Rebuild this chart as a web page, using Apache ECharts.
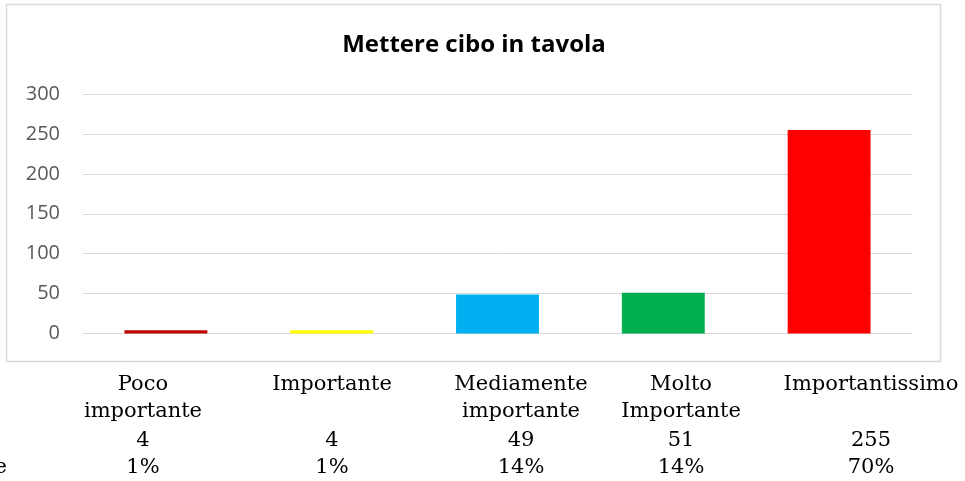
<!DOCTYPE html>
<html>
<head>
<meta charset="utf-8">
<script src="https://cdn.jsdelivr.net/npm/echarts@6/dist/echarts.min.js"></script>
<style>
    html, body { margin: 0; padding: 0; background: #fff; }
    #main { width: 965px; height: 481px; }
</style>
</head>
<body>
<div id="main"></div>
<script>
// dati del grafico
var categories = ['Poco importante', 'Importante', 'Mediamente importante', 'Molto Importante', 'Importantissimo'];
var values = [4, 4, 49, 51, 255];
var percentages = ['1%', '1%', '14%', '14%', '70%'];
var tableLabels = [['Poco', 'importante'], ['Importante'], ['Mediamente', 'importante'], ['Molto', 'Importante'], ['Importantissimo']];
var barColors = ['#C00000', '#FFFF00', '#00B0F0', '#00B050', '#FF0000'];
var yTicks = [0, 50, 100, 150, 200, 250, 300];

// colonne della tabella sotto il grafico
var colX = [143, 332, 521, 681, 871];
var rowY = [385, 412, 441, 468];
var serif = '"DejaVu Serif", serif';

function initChart(containerId) {
    var graphicItems = [
        {
            type: 'rect',
            shape: { x: 6.5, y: 4.5, width: 934, height: 357 },
            style: { fill: 'none', stroke: '#d9d9d9', lineWidth: 1.5 },
            silent: true
        },
        {
            type: 'text', x: 474, y: 45,
            style: { text: 'Mettere cibo in tavola', font: 'bold 24px "Open Sans"', fill: '#000', align: 'center', verticalAlign: 'middle' }
        }
    ];

    for (var i = 0; i < categories.length; i++) {
        var lines = tableLabels[i];
        for (var j = 0; j < lines.length; j++) {
            graphicItems.push({
                type: 'text', x: colX[i], y: rowY[j],
                style: { text: lines[j], font: '21px ' + serif, fill: '#000', align: 'center', verticalAlign: 'middle' }
            });
        }
        graphicItems.push({
            type: 'text', x: colX[i], y: rowY[2],
            style: { text: String(values[i]), font: '21px ' + serif, fill: '#000', align: 'center', verticalAlign: 'middle' }
        });
        graphicItems.push({
            type: 'text', x: colX[i], y: rowY[3],
            style: { text: percentages[i], font: '21px ' + serif, fill: '#000', align: 'center', verticalAlign: 'middle' }
        });
    }
    // etichetta di riga tagliata a sinistra
    graphicItems.push({
        type: 'text', x: 7, y: rowY[3],
        style: { text: 'Percentuale', font: '21px ' + serif, fill: '#000', align: 'right', verticalAlign: 'middle' }
    });

    var option = {
        animation: false,
        backgroundColor: '#fff',
        grid: { left: 83, right: 53, top: 94, bottom: 147.5, containLabel: false },
        xAxis: {
            type: 'category',
            data: categories,
            axisLine: { show: true, lineStyle: { color: '#d9d9d9', width: 1 } },
            axisTick: { show: false },
            axisLabel: { show: false }
        },
        yAxis: {
            type: 'value',
            min: yTicks[0],
            max: yTicks[yTicks.length - 1],
            interval: 50,
            axisLine: { show: false },
            axisTick: { show: false },
            axisLabel: { color: '#595959', fontFamily: 'Open Sans', fontSize: 20, margin: 23 },
            splitLine: { lineStyle: { color: '#d9d9d9', width: 1 } }
        },
        series: [{
            type: 'bar',
            barWidth: '50%',
            data: values.map(function (v, i) {
                return { value: v, itemStyle: { color: barColors[i] } };
            })
        }],
        graphic: graphicItems
    };

    var myChart = echarts.init(document.getElementById(containerId));
    myChart.setOption(option);
}

initChart('main');
</script>
</body>
</html>
